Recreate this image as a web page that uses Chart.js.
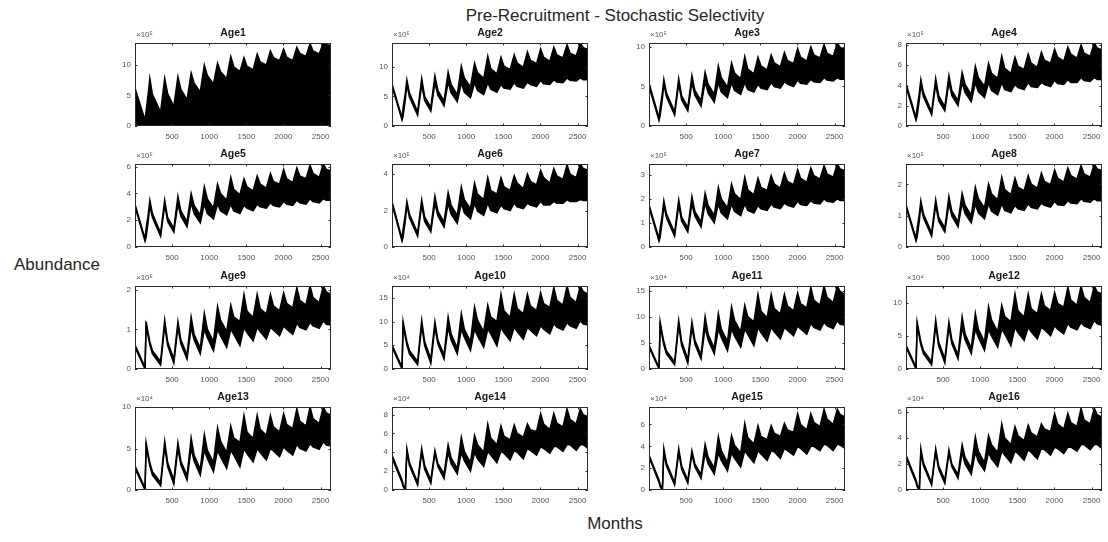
<!DOCTYPE html>
<html><head><meta charset="utf-8">
<script src="https://cdn.jsdelivr.net/npm/chart.js@4.4.1/dist/chart.umd.min.js"></script>
<style>
body{margin:0;background:#fff;width:1108px;height:542px;position:relative;overflow:hidden;font-family:"Liberation Sans",Arial,sans-serif;}
.lbl{position:absolute;color:#262626;white-space:nowrap;transform:translate(-50%,-50%);font-size:17px;}
canvas{position:absolute;}
</style></head><body>
<div class="lbl" style="left:615px;top:16px;">Pre-Recruitment - Stochastic Selectivity</div>
<div class="lbl" style="left:57px;top:265px;">Abundance</div>
<div class="lbl" style="left:615px;top:524px;">Months</div>
<script>
// ---- data (values in the units shown on each panel's axis) ----
const months = [0,135,150,180,200,235,345,400,440,523,578,618,701,756,796,879,934,974,1057,1112,1152,1235,1290,1330,1413,1468,1508,1591,1646,1686,1769,1824,1864,1947,2002,2042,2125,2180,2220,2303,2358,2398,2481,2536,2576,2640];
const ageNames = ['Age1','Age2','Age3','Age4','Age5','Age6','Age7','Age8','Age9','Age10','Age11','Age12','Age13','Age14','Age15','Age16'];
const exponents = ['×10⁵','×10⁵','×10⁵','×10⁵','×10⁵','×10⁵','×10⁵','×10⁵','×10⁵','×10⁴','×10⁴','×10⁴','×10⁴','×10⁴','×10⁴','×10⁴'];
const yMax = [13.6,14.0,10.5,8.2,6.2,4.55,3.45,2.65,2.1,17.5,16.0,12.5,10.0,8.8,7.6,6.4];
const yTicks = [[0,5,10],[0,5,10],[0,5,10],[0,2,4,6,8],[0,2,4,6],[0,2,4],[0,1,2,3],[0,1,2],[0,1,2],[0,5,10,15],[0,5,10,15],[0,5,10],[0,5,10],[0,2,4,6,8],[0,2,4,6],[0,2,4,6]];
const xTicks = [500,1000,1500,2000,2500];

const upperAge1 = [6.2,1.0,2.5,5.5,7.8,5.2,2.3,7.8,5.3,3.2,8.1,6.0,4.3,8.7,7.0,5.6,10.0,8.3,6.9,10.3,8.9,7.8,11.4,9.7,8.9,11.2,9.8,9.2,11.8,10.5,10.0,12.3,11.2,10.7,12.6,11.3,10.7,12.9,11.9,11.4,13.5,12.3,11.8,13.6,13.3,13.2];
const lowerAge1 = [0,0,0,0,0,0,0,0,0,0,0,0,0,0,0,0,0,0,0,0,0,0,0,0,0,0,0,0,0,0,0,0,0,0,0,0,0,0,0,0,0,0,0,0,0,0];
const upperAge2 = [7.1,1.4,3.1,5.6,7.8,5.6,2.4,8.0,5.0,3.2,8.5,6.0,4.2,9.1,7.0,5.3,10.1,8.1,6.6,10.6,9.0,8.0,11.8,9.7,8.8,11.6,10.1,9.5,12.0,10.6,9.9,12.5,11.1,10.5,13.0,11.6,10.9,13.3,12.0,11.5,13.7,12.3,11.8,14.0,13.2,12.9];
const lowerAge2 = [6.7,1.0,1.7,4.5,7.0,4.9,1.8,7.0,4.3,2.5,7.3,5.2,3.4,7.4,5.6,4.1,7.3,5.7,4.8,7.3,6.0,5.3,7.3,6.2,5.7,7.0,6.4,6.2,7.3,6.7,6.4,7.4,7.0,6.7,7.7,7.1,7.0,7.8,7.4,7.3,8.1,7.7,7.6,8.1,7.8,7.8];
const upperAge3 = [5.4,1.05,2.3,4.2,5.9,4.2,1.8,6.0,3.8,2.4,6.4,4.5,3.2,6.8,5.3,4.0,7.6,6.1,4.9,8.0,6.7,6.0,8.8,7.2,6.6,8.7,7.6,7.1,9.0,8.0,7.5,9.3,8.3,7.9,9.8,8.7,8.2,10.0,9.0,8.6,10.3,9.2,8.8,10.5,9.9,9.7];
const lowerAge3 = [5.0,0.7,1.3,3.4,5.3,3.7,1.4,5.3,3.3,1.9,5.5,3.9,2.5,5.6,4.2,3.0,5.5,4.3,3.6,5.5,4.5,4.0,5.5,4.6,4.3,5.3,4.8,4.6,5.5,5.0,4.8,5.6,5.3,5.0,5.8,5.4,5.3,5.9,5.6,5.5,6.1,5.8,5.7,6.1,5.9,5.9];
const upperAge4 = [4.2,0.82,1.8,3.3,4.6,3.3,1.4,4.7,3.0,1.9,5.0,3.5,2.5,5.3,4.1,3.1,5.9,4.8,3.9,6.2,5.2,4.7,6.9,5.7,5.2,6.8,5.9,5.6,7.1,6.2,5.8,7.3,6.5,6.2,7.6,6.8,6.4,7.8,7.1,6.7,8.0,7.2,6.9,8.2,7.7,7.5];
const lowerAge4 = [3.9,0.57,1.0,2.6,4.1,2.9,1.1,4.1,2.5,1.5,4.3,3.0,2.0,4.3,3.3,2.4,4.3,3.4,2.8,4.3,3.5,3.1,4.3,3.6,3.4,4.1,3.8,3.6,4.3,3.9,3.8,4.3,4.1,3.9,4.5,4.2,4.1,4.6,4.3,4.3,4.8,4.5,4.4,4.8,4.6,4.6];
const upperAge5 = [3.2,0.62,1.4,2.5,3.5,2.5,1.05,3.5,2.2,1.4,3.8,2.7,1.9,4.0,3.1,2.4,4.5,3.6,2.9,4.7,4.0,3.5,5.2,4.3,3.9,5.1,4.5,4.2,5.3,4.7,4.4,5.5,4.9,4.7,5.8,5.1,4.8,5.9,5.3,5.1,6.1,5.5,5.2,6.2,5.8,5.7];
const lowerAge5 = [3.0,0.43,0.74,2.0,3.1,2.2,0.8,3.1,1.9,1.1,3.2,2.3,1.5,3.3,2.5,1.8,3.2,2.5,2.1,3.2,2.7,2.4,3.2,2.7,2.5,3.1,2.9,2.7,3.2,3.0,2.9,3.3,3.1,3.0,3.4,3.2,3.1,3.5,3.3,3.2,3.6,3.4,3.3,3.6,3.5,3.5];
const upperAge6 = [2.5,0.46,1.0,1.8,2.5,1.8,0.77,2.6,1.64,1.05,2.8,1.96,1.37,3.0,2.3,1.73,3.3,2.6,2.1,3.5,2.9,2.6,3.8,3.1,2.9,3.8,3.3,3.1,3.9,3.5,3.2,4.0,3.6,3.4,4.2,3.8,3.5,4.3,3.9,3.7,4.5,4.0,3.8,4.55,4.3,4.2];
const lowerAge6 = [2.35,0.32,0.55,1.46,2.3,1.6,0.59,2.3,1.4,0.82,2.4,1.7,1.1,2.4,1.8,1.3,2.4,1.87,1.55,2.4,1.96,1.73,2.4,2.0,1.87,2.3,2.1,2.0,2.4,2.2,2.1,2.4,2.3,2.2,2.5,2.3,2.3,2.5,2.4,2.4,2.6,2.5,2.5,2.6,2.55,2.55];
const upperAge7 = [1.76,0.35,0.76,1.38,1.93,1.38,0.59,1.97,1.24,0.79,2.1,1.48,1.04,2.24,1.73,1.31,2.48,2.0,1.62,2.62,2.21,1.97,2.9,2.38,2.17,2.86,2.48,2.35,2.97,2.62,2.45,3.07,2.73,2.59,3.21,2.86,2.69,3.28,2.97,2.83,3.38,3.04,2.9,3.45,3.24,3.17];
const lowerAge7 = [1.66,0.24,0.41,1.1,1.73,1.21,0.45,1.73,1.07,0.62,1.79,1.28,0.83,1.83,1.38,1.0,1.79,1.41,1.17,1.79,1.48,1.31,1.79,1.52,1.41,1.73,1.59,1.52,1.79,1.66,1.59,1.83,1.73,1.66,1.9,1.76,1.73,1.93,1.83,1.79,2.0,1.9,1.86,2.0,1.93,1.93];
const upperAge8 = [1.35,0.27,0.58,1.06,1.48,1.06,0.45,1.51,0.95,0.61,1.62,1.14,0.8,1.72,1.33,1.01,1.91,1.54,1.25,2.01,1.7,1.51,2.23,1.83,1.67,2.2,1.91,1.8,2.28,2.01,1.88,2.36,2.09,1.99,2.46,2.2,2.07,2.52,2.28,2.17,2.6,2.33,2.23,2.65,2.49,2.44];
const lowerAge8 = [1.27,0.19,0.32,0.85,1.33,0.93,0.34,1.33,0.82,0.48,1.38,0.98,0.64,1.4,1.06,0.77,1.38,1.09,0.9,1.38,1.14,1.01,1.38,1.17,1.09,1.33,1.22,1.17,1.38,1.27,1.22,1.4,1.33,1.27,1.46,1.35,1.33,1.48,1.4,1.38,1.54,1.46,1.43,1.54,1.48,1.48];
const upperAge9 = [0.61,0.04,1.2,0.88,0.69,0.46,0.19,1.24,0.69,0.25,1.2,0.74,0.36,1.32,0.88,0.53,1.41,1.01,0.69,1.58,1.24,0.95,1.62,1.32,1.2,1.89,1.47,1.3,1.89,1.53,1.39,1.89,1.6,1.47,1.93,1.66,1.55,2.06,1.74,1.62,2.1,1.81,1.68,2.1,1.95,1.89];
const lowerAge9 = [0.55,0,1.09,0.8,0.61,0.38,0.1,1.09,0.59,0.15,1.05,0.63,0.25,1.05,0.74,0.38,1.01,0.8,0.46,1.01,0.84,0.55,1.01,0.88,0.59,1.05,0.92,0.71,1.05,0.95,0.76,1.05,0.99,0.84,1.09,1.01,0.88,1.16,1.05,0.99,1.18,1.09,1.03,1.22,1.13,1.11];
const upperAge10 = [5.1,0.35,10.0,7.4,5.8,3.9,1.6,10.3,5.8,2.1,10.0,6.1,3.0,11.0,7.4,4.4,11.7,8.4,5.8,13.1,10.3,7.9,13.5,11.0,10.0,15.8,12.3,10.9,15.8,12.8,11.6,15.8,13.3,12.3,16.1,13.8,13.0,17.2,14.5,13.5,17.5,15.1,14.0,17.5,16.3,15.8];
const lowerAge10 = [4.6,0,9.1,6.7,5.1,3.2,0.9,9.1,4.9,1.2,8.8,5.3,2.1,8.8,6.1,3.2,8.4,6.7,3.9,8.4,7.0,4.6,8.4,7.4,4.9,8.8,7.7,6.0,8.8,7.9,6.3,8.8,8.2,7.0,9.1,8.4,7.4,9.6,8.8,8.2,9.8,9.1,8.6,10.2,9.5,9.3];
const upperAge11 = [4.6,0.3,9.1,6.7,5.3,3.5,1.4,9.4,5.3,1.9,9.1,5.6,2.7,10.1,6.7,4.0,10.7,7.7,5.3,12.0,9.4,7.2,12.3,10.1,9.1,14.4,11.2,9.9,14.4,11.7,10.6,14.4,12.2,11.2,14.7,12.6,11.8,15.7,13.3,12.3,16.0,13.8,12.8,16.0,14.9,14.4];
const lowerAge11 = [4.2,0,8.3,6.1,4.6,2.9,0.8,8.3,4.5,1.1,8.0,4.8,1.9,8.0,5.6,2.9,7.7,6.1,3.5,7.7,6.4,4.2,7.7,6.7,4.5,8.0,7.0,5.4,8.0,7.2,5.8,8.0,7.5,6.4,8.3,7.7,6.7,8.8,8.0,7.5,9.0,8.3,7.8,9.3,8.6,8.5];
const upperAge12 = [3.6,0.25,7.1,5.3,4.1,2.8,1.1,7.4,4.1,1.5,7.1,4.4,2.1,7.9,5.3,3.1,8.4,6.0,4.1,9.4,7.4,5.6,9.6,7.9,7.1,11.3,8.8,7.8,11.3,9.1,8.3,11.3,9.5,8.8,11.5,9.9,9.3,12.3,10.4,9.6,12.5,10.8,10.0,12.5,11.6,11.3];
const lowerAge12 = [3.3,0,6.5,4.8,3.6,2.3,0.6,6.5,3.5,0.9,6.3,3.8,1.5,6.3,4.4,2.3,6.0,4.8,2.8,6.0,5.0,3.3,6.0,5.3,3.5,6.3,5.5,4.3,6.3,5.6,4.5,6.3,5.9,5.0,6.5,6.0,5.3,6.9,6.3,5.9,7.0,6.5,6.1,7.3,6.8,6.6];
const upperAge13 = [2.9,0.2,5.7,4.2,3.3,2.2,0.9,5.9,3.3,1.2,5.7,3.5,1.7,6.3,4.2,2.5,6.7,4.8,3.3,7.5,5.9,4.5,7.7,6.3,5.7,9.0,7.0,6.2,9.0,7.3,6.6,9.0,7.6,7.0,9.2,7.9,7.4,9.8,8.3,7.7,10.0,8.6,8.0,10.0,9.3,9.0];
const lowerAge13 = [2.6,0,5.2,3.8,2.9,1.8,0.5,5.2,2.8,0.7,5.0,3.0,1.2,5.0,3.5,1.8,4.8,3.8,2.2,4.8,4.0,2.6,4.8,4.2,2.8,5.0,4.4,3.4,5.0,4.5,3.6,5.0,4.7,4.0,5.2,4.8,4.2,5.5,5.0,4.7,5.6,5.2,4.9,5.8,5.4,5.3];
const upperAge14 = [3.7,1.06,0.62,0,4.4,2.9,0.8,4.4,2.6,1.06,4.2,2.8,1.7,4.8,3.4,2.3,5.6,4.1,2.9,5.8,4.8,4.0,7.0,5.5,4.8,6.8,5.7,5.3,6.9,6.0,5.6,7.0,6.4,6.2,8.1,7.0,6.4,8.1,7.1,6.7,8.6,7.5,7.0,8.6,8.0,7.7];
const lowerAge14 = [3.4,0.8,0.35,0,4.0,2.6,0.53,4.0,2.2,0.7,3.9,2.5,1.2,4.0,2.8,1.7,4.0,3.1,2.0,4.0,3.3,2.5,4.1,3.7,2.9,4.1,3.9,3.2,4.2,4.0,3.3,4.4,4.2,3.7,4.6,4.4,3.9,4.6,4.6,4.1,4.8,4.8,4.2,4.8,4.8,4.4];
const upperAge15 = [3.2,0.91,0.53,0,3.8,2.5,0.68,3.8,2.2,0.91,3.6,2.4,1.44,4.2,3.0,2.0,4.9,3.6,2.5,5.0,4.1,3.4,6.1,4.8,4.2,5.9,4.9,4.6,5.9,5.2,4.9,6.1,5.5,5.3,7.0,6.0,5.5,7.0,6.2,5.8,7.4,6.5,6.0,7.4,6.9,6.7];
const lowerAge15 = [3.0,0.68,0.3,0,3.4,2.2,0.46,3.4,1.9,0.61,3.3,2.1,1.06,3.4,2.4,1.44,3.4,2.7,1.75,3.4,2.9,2.1,3.6,3.2,2.5,3.6,3.3,2.7,3.6,3.5,2.9,3.8,3.6,3.2,4.0,3.8,3.3,4.0,4.0,3.6,4.2,4.1,3.6,4.2,4.1,3.8];
const upperAge16 = [2.7,0.77,0.45,0,3.2,2.1,0.58,3.2,1.86,0.77,3.1,2.0,1.2,3.5,2.5,1.7,4.1,3.0,2.1,4.2,3.5,2.9,5.1,4.0,3.5,4.9,4.2,3.8,5.0,4.4,4.1,5.1,4.7,4.5,5.9,5.1,4.7,5.9,5.2,4.9,6.3,5.4,5.1,6.3,5.8,5.6];
const lowerAge16 = [2.5,0.58,0.26,0,2.9,1.86,0.38,2.9,1.6,0.51,2.8,1.8,0.9,2.9,2.0,1.2,2.9,2.2,1.5,2.9,2.4,1.8,3.0,2.7,2.1,3.0,2.8,2.3,3.1,2.9,2.4,3.2,3.1,2.7,3.3,3.2,2.8,3.3,3.3,3.0,3.5,3.5,3.1,3.5,3.5,3.2];

const uppers = [upperAge1,upperAge2,upperAge3,upperAge4,upperAge5,upperAge6,upperAge7,upperAge8,upperAge9,upperAge10,upperAge11,upperAge12,upperAge13,upperAge14,upperAge15,upperAge16];
const lowers = [lowerAge1,lowerAge2,lowerAge3,lowerAge4,lowerAge5,lowerAge6,lowerAge7,lowerAge8,lowerAge9,lowerAge10,lowerAge11,lowerAge12,lowerAge13,lowerAge14,lowerAge15,lowerAge16];

// ---- layout ----
const colLeft = [135, 392, 649, 906];
const rowTop = [43, 164.3, 285.7, 407];
const boxW = 196, boxH = 83;
const padL = 40, padT = 24, padR = 8, padB = 18;
const FONT = '"Liberation Sans", Arial, sans-serif';

const panelDeco = {
  id: 'panelDeco',
  afterDraw(chart) {
    const {ctx, chartArea: a, scales} = chart;
    const i = chart.options.plugins.panelDeco.idx;
    ctx.save();
    ctx.strokeStyle = '#2b2b2b';
    ctx.lineWidth = 1;
    ctx.strokeRect(Math.round(a.left) + 0.5, Math.round(a.top) + 0.5, Math.round(a.right - a.left) - 1, Math.round(a.bottom - a.top) - 1);
    ctx.beginPath();
    yTicks[i].forEach(v => {
      const y = Math.round(scales.y.getPixelForValue(v)) + 0.5;
      ctx.moveTo(a.left, y); ctx.lineTo(a.left + 2.5, y);
      ctx.moveTo(a.right, y); ctx.lineTo(a.right - 2.5, y);
    });
    xTicks.forEach(v => {
      const x = Math.round(scales.x.getPixelForValue(v)) + 0.5;
      ctx.moveTo(x, a.bottom); ctx.lineTo(x, a.bottom - 2.5);
      ctx.moveTo(x, a.top); ctx.lineTo(x, a.top + 2.5);
    });
    ctx.stroke();
    ctx.fillStyle = '#1a1a1a';
    ctx.font = 'bold 10.5px ' + FONT;
    ctx.textAlign = 'center';
    ctx.textBaseline = 'middle';
    ctx.fillText(ageNames[i], (a.left + a.right) / 2, a.top - 10);
    ctx.fillStyle = '#555';
    ctx.font = '8px ' + FONT;
    ctx.textAlign = 'left';
    ctx.fillText(exponents[i], a.left + 1, a.top - 8);
    ctx.restore();
  }
};

for (let i = 0; i < 16; i++) {
  const c = i % 4, r = Math.floor(i / 4);
  const cv = document.createElement('canvas');
  const W = boxW + padL + padR, H = boxH + padT + padB;
  cv.width = W; cv.height = H;
  cv.style.left = (colLeft[c] - padL) + 'px';
  cv.style.top = (rowTop[r] - padT) + 'px';
  cv.style.width = W + 'px'; cv.style.height = H + 'px';
  document.body.appendChild(cv);
  const up = months.map((m, k) => ({x: m, y: uppers[i][k]}));
  const lo = months.map((m, k) => ({x: m, y: lowers[i][k]}));
  new Chart(cv, {
    type: 'line',
    data: {
      datasets: [
        {data: lo, borderColor: '#000', borderWidth: 1.5, pointRadius: 0, fill: false, tension: 0},
        {data: up, borderColor: '#000', backgroundColor: '#000', borderWidth: 1.5, pointRadius: 0, fill: i === 0 ? 'origin' : '-1', tension: 0}
      ]
    },
    options: {
      responsive: false, animation: false, devicePixelRatio: 1,
      layout: {padding: {top: padT, right: padR, left: 0, bottom: 0}},
      plugins: {legend: {display: false}, tooltip: {enabled: false}, panelDeco: {idx: i}},
      scales: {
        x: {
          type: 'linear', min: 0, max: 2640,
          afterFit: s => { s.height = padB; },
          afterBuildTicks: s => { s.ticks = xTicks.map(v => ({value: v})); },
          grid: {display: false, drawTicks: false},
          border: {display: false},
          ticks: {padding: 6, color: '#555', font: {size: 8, family: FONT}, maxRotation: 0, autoSkip: false, callback: v => String(v)}
        },
        y: {
          type: 'linear', min: 0, max: yMax[i],
          afterFit: s => { s.width = padL; },
          afterBuildTicks: s => { s.ticks = yTicks[i].map(v => ({value: v})); },
          grid: {display: false, drawTicks: false},
          border: {display: false},
          ticks: {padding: 4, color: '#555', font: {size: 8, family: FONT}, autoSkip: false, callback: v => String(v)}
        }
      }
    },
    plugins: [panelDeco]
  });
}
</script>
</body></html>
